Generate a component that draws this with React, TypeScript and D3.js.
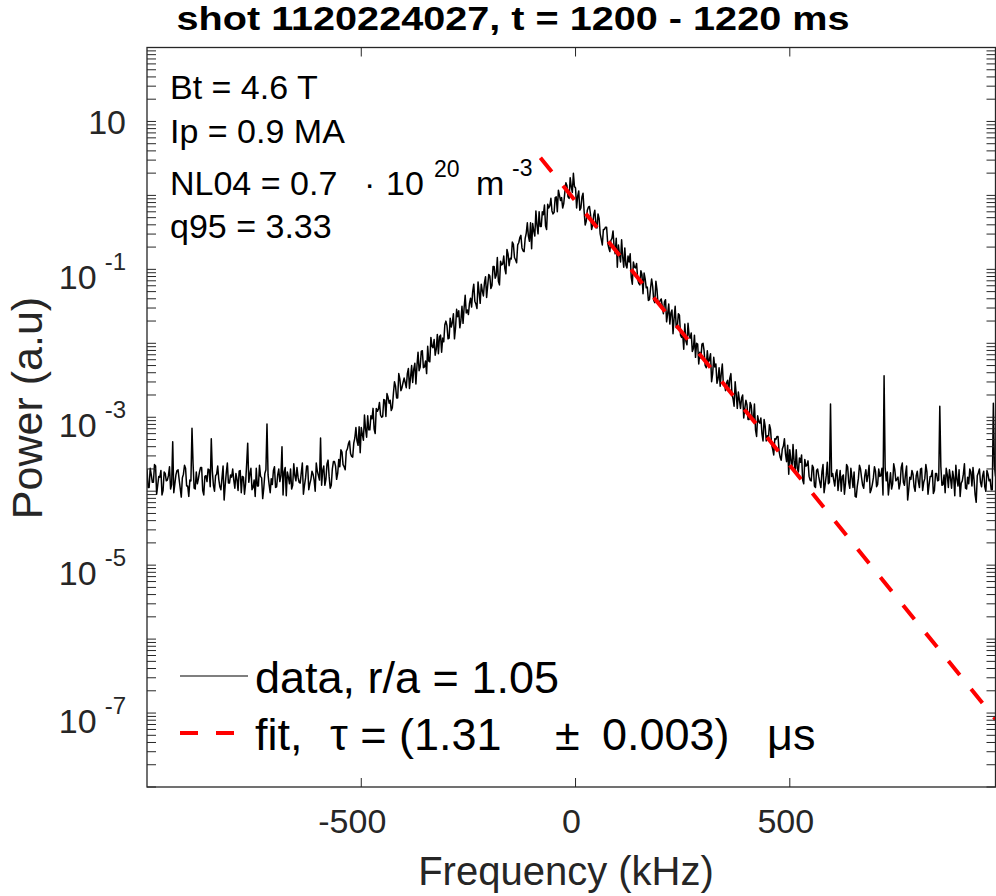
import React from 'react';
import * as d3 from 'd3';

// Spectrum, log10(power).
// logPower: samples at -1000, -995, ... 980 kHz; logPowerMid: samples half-way between them.
const freqStart = -1000;
const freqStep = 5;
const logPower = [
  -3.70, -3.95, -3.78, -3.88, -3.66, -3.92, -3.81, -4.05, -3.74, -3.86,
  -3.79, -3.97, -3.33, -3.90, -3.72, -3.84, -4.08, -3.77, -3.69, -3.93,
  -3.85, -3.15, -3.96, -3.74, -3.83, -3.68, -3.99, -3.80, -3.87, -3.71,
  -3.29, -3.92, -3.79, -3.66, -3.94, -3.82, -4.12, -3.75, -3.89, -3.78,
  -3.70, -3.96, -3.84, -3.73, -4.02, -3.81, -3.90, -3.35, -3.77, -3.98,
  -3.85, -3.69, -3.93, -3.80, -4.10, -3.76, -3.09, -3.91, -3.83, -3.72,
  -3.95, -3.78, -3.87, -3.40, -3.74, -4.06, -3.81, -3.70, -3.92, -3.79,
  -3.68, -3.88, -3.75, -4.04, -3.82, -3.66, -3.90, -3.73, -3.85, -3.62,
  -3.79, -3.28,
  -3.72, -3.92, -3.63, -3.80, -3.92, -3.60, -3.66, -3.76,
  -3.67, -3.47, -3.67, -3.46, -3.36, -3.49, -3.54, -3.28, -3.32, -3.13,
  -3.14, -3.31, -3.16, -2.98, -3.17, -3.02, -3.16, -2.88, -2.89, -2.97,
  -2.99, -2.77, -2.68, -2.81, -2.91, -2.68, -2.58, -2.74, -2.48, -2.60,
  -2.47, -2.60, -2.34, -2.46, -2.53, -2.27, -2.30, -2.37, -2.11, -2.33,
  -2.24, -2.04, -2.25, -2.04, -1.95, -2.08, -2.14, -1.89, -1.93, -1.75,
  -1.76, -1.93, -1.78, -1.60, -1.79, -1.64, -1.79, -1.50, -1.52, -1.59,
  -1.61, -1.39, -1.30, -1.43, -1.53, -1.31, -1.20, -1.36, -1.10, -1.22,
  -1.09, -1.22, -0.96, -1.08, -1.16, -0.89, -0.93, -0.99, -0.73, -0.95,
  -0.86, -0.66, -0.87, -0.67, -0.57, -0.71, -0.76, -0.51, -0.55, -0.37,
  -0.38, -0.55, -0.40, -0.22, -0.42, -0.26, -0.41, -0.12, -0.14, -0.21,
  -0.23, -0.02, 0.07, -0.07, -0.17, 0.04, 0.13, -0.04, 0.12, 0.30,
  0.10,
  -0.01, -0.20, -0.02, -0.21, -0.35, -0.16, -0.26, -0.40, -0.20,
  -0.44, -0.31, -0.59, -0.46, -0.43, -0.64, -0.76, -0.58, -0.70, -0.58,
  -0.67, -0.90, -0.83, -0.71, -0.98, -0.90, -1.11, -0.90, -0.98, -1.13,
  -1.21, -1.07, -1.05, -1.25, -1.42, -1.26, -1.23, -1.45, -1.27, -1.46,
  -1.40, -1.60, -1.41, -1.60, -1.74, -1.55, -1.66, -1.79, -1.60, -1.89,
  -1.87, -1.74, -2.02, -1.89, -1.86, -2.07, -2.19, -2.01, -2.12, -2.01,
  -2.10, -2.33, -2.26, -2.14, -2.41, -2.32, -2.54, -2.33, -2.41, -2.56,
  -2.64, -2.50, -2.47, -2.68, -2.85, -2.69, -2.66, -2.88, -2.70, -2.88,
  -2.83, -3.03, -2.84, -3.03, -3.17, -2.98, -3.08, -3.22, -3.03, -3.32,
  -3.29, -3.16, -3.43, -3.29, -3.26, -3.46, -3.58, -3.39, -3.50, -3.38,
  -3.44, -3.70, -3.59, -3.44, -3.74, -3.61, -3.85, -3.57, -3.65, -3.80,
  -3.86, -3.68, -3.95, -3.70, -3.88, -3.74, -4.02, -3.79, -3.90, -2.82,
  -3.76, -3.93, -3.71, -3.85, -4.00, -3.78, -3.89, -3.67, -3.96, -3.81,
  -3.74, -4.08, -3.83, -3.70, -3.92, -3.79, -3.87, -3.65, -3.98, -3.82,
  -3.73, -3.91, -3.80, -3.69, -2.44, -3.86, -4.05, -3.75, -3.90, -3.71,
  -3.84, -3.97, -3.68, -3.88, -3.77, -4.12, -3.81, -3.72, -3.94, -3.79,
  -3.87, -3.70, -3.99, -3.83, -3.74, -3.91, -3.80, -4.03, -3.76, -3.86,
  -2.85, -3.92, -3.78, -3.69, -3.95, -3.82, -3.73, -4.06, -3.84, -3.71,
  -3.89, -3.77, -3.96, -3.81, -3.70, -3.93, -3.85, -4.15, -3.75, -3.88,
  -3.79, -3.94, -3.72, -3.86, -3.98, -2.81, -3.80,
];
const logPowerMid = [
  -3.95, -3.69, -3.88, -3.64, -4.04, -3.80, -3.72, -3.99, -3.76, -3.85,
  -3.67, -3.91, -4.02, -3.78, -3.71, -3.96, -3.82, -3.65, -3.93, -4.07,
  -3.86, -3.63, -3.97, -3.90, -3.74, -3.68, -4.05, -3.79, -3.70, -3.94,
  -3.73, -4.00, -3.77, -3.84, -3.98, -3.66, -3.92, -3.62, -3.89, -3.81,
  -3.85, -3.76, -3.99, -3.72, -3.80, -4.04, -3.64, -3.88, -3.69, -3.95,
  -4.07, -3.93, -3.65, -3.82, -3.96, -3.71, -3.78, -4.02, -3.91, -3.67,
  -3.94, -3.70, -3.79, -4.05, -3.68, -3.74, -3.90, -3.97, -3.63, -3.86,
  -3.81, -3.89, -3.62, -3.92, -3.66, -3.98, -3.84, -3.77, -4.00, -3.73,
  -3.85,
  -3.92, -3.66, -3.84, -3.58, -3.96, -3.70, -3.60, -3.84, -3.57,
  -3.44, -3.64, -3.71, -3.43, -3.32, -3.53, -3.35, -3.14, -3.38, -3.48,
  -3.23, -2.97, -3.27, -3.17, -2.98, -2.88, -3.22, -2.92, -2.80, -3.00,
  -2.76, -2.99, -2.73, -2.77, -2.87, -2.52, -2.74, -2.41, -2.64, -2.53,
  -2.53, -2.41, -2.61, -2.30, -2.35, -2.55, -2.12, -2.32, -2.10, -2.32,
  -2.41, -2.24, -1.92, -2.06, -2.16, -1.88, -1.91, -2.12, -1.98, -1.70,
  -1.94, -1.66, -1.72, -1.94, -1.54, -1.56, -1.69, -1.73, -1.35, -1.55,
  -1.46, -1.51, -1.20, -1.47, -1.17, -1.46, -1.29, -1.18, -1.38, -1.07,
  -1.26, -0.96, -1.12, -0.84, -1.21, -0.94, -0.82, -1.06, -0.79, -0.85,
  -0.63, -0.84, -0.91, -0.64, -0.54, -0.75, -0.58, -0.37, -0.62, -0.72,
  -0.48, -0.21, -0.52, -0.42, -0.22, -0.13, -0.46, -0.17, -0.04, -0.25,
  -0.03, -0.22, 0.00, -0.03, -0.11, 0.17, -0.02, 0.24, 0.04, 0.12,
  -0.17, 0.06, -0.17, 0.03, -0.40, -0.20, -0.15, -0.46, -0.26, -0.39,
  -0.25, -0.52, -0.67, -0.46, -0.43, -0.71, -0.61, -0.48, -0.79, -0.97,
  -0.79, -0.60, -0.97, -0.94, -0.82, -0.79, -1.20, -0.97, -0.92, -1.19,
  -1.02, -1.33, -1.13, -1.24, -1.41, -1.13, -1.42, -1.16, -1.47, -1.42,
  -1.50, -1.44, -1.71, -1.47, -1.59, -1.87, -1.50, -1.78, -1.62, -1.92,
  -2.08, -1.97, -1.73, -1.93, -2.11, -1.89, -2.00, -2.28, -2.20, -2.00,
  -2.30, -2.10, -2.22, -2.52, -2.19, -2.28, -2.48, -2.58, -2.28, -2.54,
  -2.53, -2.65, -2.41, -2.75, -2.52, -2.88, -2.77, -2.74, -3.01, -2.77,
  -3.03, -2.80, -3.03, -2.82, -3.26, -3.06, -3.01, -3.32, -3.12, -3.25,
  -3.10, -3.37, -3.51, -3.30, -3.26, -3.54, -3.43, -3.29, -3.60, -3.77,
  -3.58, -3.37, -3.74, -3.69, -3.55, -3.51, -3.90, -3.66, -3.59, -3.85,
  -3.65, -3.93, -3.72, -3.80, -3.95, -3.64, -3.91, -3.61, -3.88, -3.80,
  -3.85, -3.76, -3.99, -3.72, -3.80, -4.04, -3.64, -3.88, -3.69, -3.95,
  -4.07, -3.93, -3.65, -3.82, -3.96, -3.71, -3.78, -4.02, -3.91, -3.67,
  -3.94, -3.70, -3.79, -4.05, -3.68, -3.74, -3.90, -3.97, -3.63, -3.86,
  -3.81, -3.89, -3.62, -3.92, -3.66, -3.98, -3.84, -3.77, -4.00, -3.73,
  -3.95, -3.69, -3.88, -3.64, -4.04, -3.80, -3.72, -3.99, -3.76, -3.85,
  -3.67, -3.91, -4.02, -3.78, -3.71, -3.96, -3.82, -3.65, -3.93, -4.07,
  -3.86, -3.63, -3.97, -3.90, -3.74, -3.68, -4.05, -3.79, -3.70, -3.94,
  -3.73, -4.00, -3.77, -3.84, -3.98, -3.66,
];

// Exponential fit (straight on a log axis): end points
const fitFreq = [-82, 980];
const fitLogPower = [0.51, -7.083];

const xTicks = [-500, 0, 500];
const yLabelExps = [1, -1, -3, -5, -7];
const minorMantissas = [1, 2, 3, 4, 5, 6, 7, 8, 9];
const decadeExps = [-8, -7, -6, -5, -4, -3, -2, -1, 0, 1];

const infoLines = ['Bt = 4.6 T', 'Ip = 0.9 MA'];
const q95Line = 'q95 = 3.33';
const titleText = 'shot 1120224027, t = 1200 - 1220 ms';

const FONT = "'Liberation Sans', Arial, Helvetica, sans-serif";
const AX = '#262626';

export default function App() {
  const W = 996, H = 896;
  const left = 147, right = 995.5, top = 47.5, bottom = 787;
  const x = d3.scaleLinear().domain([-1000, 980]).range([left, right]);
  const y = d3.scaleLog().domain([1e-8, 1e2]).range([bottom, top]);

  const pts: [number, number][] = [];
  logPower.forEach((v, i) => {
    pts.push([freqStart + i * freqStep, Math.pow(10, v)]);
    if (i < logPowerMid.length) {
      pts.push([freqStart + i * freqStep + freqStep / 2, Math.pow(10, logPowerMid[i])]);
    }
  });
  const line = d3.line<[number, number]>().x(d => x(d[0])).y(d => y(d[1]));
  const fitPts: [number, number][] = fitFreq.map((f, i) => [f, Math.pow(10, fitLogPower[i])]);

  const yTickVals: number[] = [];
  decadeExps.forEach(e => minorMantissas.forEach(m => yTickVals.push(m * Math.pow(10, e))));
  yTickVals.push(100);

  const tl = 9;

  return (
    <svg width={W} height={H} style={{ position: 'absolute', left: 0, top: 0, background: '#fff' }} fontFamily={FONT}>
      <defs>
        <clipPath id="plotclip">
          <rect x={left} y={top} width={right - left} height={bottom - top} />
        </clipPath>
      </defs>
      <rect x={0} y={0} width={W} height={H} fill="#fff" />

      {/* data */}
      <g clipPath="url(#plotclip)">
        <path d={line(pts) || ''} fill="none" stroke="#000" strokeWidth={1.5} strokeLinejoin="round" />
        <path d={line(fitPts) || ''} fill="none" stroke="#ff0000" strokeWidth={4} strokeDasharray="18 18" />
      </g>

      {/* axes box */}
      <rect x={left} y={top} width={right - left} height={bottom - top} fill="none" stroke={AX} strokeWidth={1.3} />

      {/* x ticks */}
      {xTicks.map(t => (
        <g key={'xt' + t}>
          <line x1={x(t)} x2={x(t)} y1={bottom} y2={bottom - tl} stroke={AX} strokeWidth={1} />
          <line x1={x(t)} x2={x(t)} y1={top} y2={top + tl} stroke={AX} strokeWidth={1} />
          <text x={x(t) + (t < 0 ? -9 : -4)} y={833} textAnchor="middle" fontSize={34} fill={AX}>{t}</text>
        </g>
      ))}

      {/* y ticks */}
      {yTickVals.map((v, i) => (
        <g key={'yt' + i}>
          <line x1={left} x2={left + tl} y1={y(v)} y2={y(v)} stroke={AX} strokeWidth={1} />
          <line x1={right} x2={right - tl} y1={y(v)} y2={y(v)} stroke={AX} strokeWidth={1} />
        </g>
      ))}
      {yLabelExps.map(e => {
        const yy = y(Math.pow(10, e));
        if (e === 1) {
          return <text key={'yl' + e} x={126} y={yy + 13} textAnchor="end" fontSize={34} fill={AX}>10</text>;
        }
        return (
          <text key={'yl' + e} x={126} y={yy + 20} textAnchor="end" fontSize={34} fill={AX}>
            10<tspan dx={8} dy={-19} fontSize={24}>{String(e)}</tspan>
          </text>
        );
      })}

      {/* axis labels */}
      <text x={566} y={885} textAnchor="middle" fontSize={40} fill={AX}>Frequency (kHz)</text>
      <text transform={`translate(42,408) rotate(-90)`} textAnchor="middle" fontSize={43} fill={AX}>Power (a.u)</text>

      {/* title */}
      <text x={513} y={30} textAnchor="middle" fontSize={34} fontWeight="bold" fill="#000" textLength={673} lengthAdjust="spacingAndGlyphs">{titleText}</text>

      {/* info text */}
      <text x={170} y={99} fontSize={34} fill="#000">{infoLines[0]}</text>
      <text x={170} y={143} fontSize={34} fill="#000">{infoLines[1]}</text>
      <text x={170} y={195} fontSize={34} fill="#000">NL04 = 0.7</text>
      <text x={364} y={195} fontSize={34} fill="#000">·</text>
      <text x={386} y={195} fontSize={34} fill="#000">10</text>
      <text x={434} y={177} fontSize={23} fill="#000">20</text>
      <text x={476} y={195} fontSize={34} fill="#000">m</text>
      <text x={512} y={176} fontSize={23} fill="#000">-3</text>
      <text x={170} y={238} fontSize={34} fill="#000">{q95Line}</text>

      {/* legend */}
      <line x1={180} x2={248} y1={676} y2={676} stroke="#000" strokeWidth={1.2} />
      <line x1={180} x2={234} y1={733} y2={733} stroke="#ff0000" strokeWidth={4} strokeDasharray="18 18" />
      <text x={255} y={693} fontSize={45} fill="#000">data, r/a = 1.05</text>
      <text x={255} y={750} fontSize={45} fill="#000">fit,</text>
      <text x={330} y={750} fontSize={45} fill="#000">τ = (1.31</text>
      <text x={555} y={750} fontSize={45} fill="#000">±</text>
      <text x={602} y={750} fontSize={45} fill="#000">0.003)</text>
      <text x={767} y={750} fontSize={45} fill="#000">μs</text>
    </svg>
  );
}
